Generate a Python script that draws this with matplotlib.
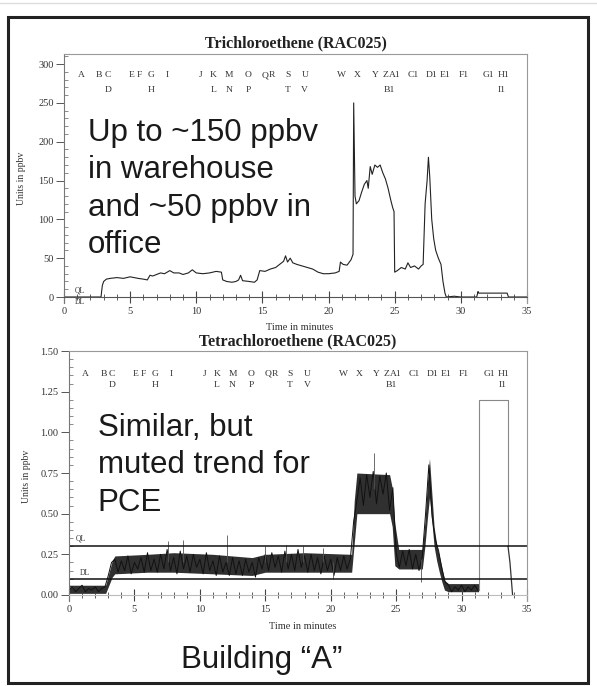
import matplotlib
matplotlib.use("Agg")
import numpy as np
import matplotlib.pyplot as plt
from matplotlib.patches import Rectangle
from matplotlib.lines import Line2D
from matplotlib.ticker import MultipleLocator

# --- data ---
# marker letters above both traces (time in minutes)
letters_row1 = ["A", "B", "C", "E", "F", "G", "I", "J", "K", "M", "O", "Q", "R", "S", "U",
                "W", "X", "Y", "Z", "A1", "C1", "D1", "E1", "F1", "G1", "H1"]
letters_row1_x = [1.28, 2.65, 3.3, 5.1, 5.7, 6.6, 7.8, 10.35, 11.3, 12.5, 13.9, 15.2, 15.7, 16.9, 18.2,
                  21.0, 22.2, 23.5, 24.3, 25.0, 26.4, 27.8, 28.8, 30.2, 32.1, 33.2]
letters_row2 = ["D", "H", "L", "N", "P", "T", "V", "B1", "I1"]
letters_row2_x = [3.3, 6.6, 11.3, 12.5, 13.9, 16.9, 18.2, 24.6, 33.1]

# Trichloroethene trace (minutes, ppbv)
tce_t = [0, 2.8, 2.85, 2.9, 3.0, 3.2, 3.5, 4.0, 4.5, 5.0, 5.3, 5.6, 6.0, 6.3, 6.5, 6.7, 7.0, 7.3,
         7.6, 8.0, 8.3, 8.7, 9.0, 9.4, 9.7, 10.0, 10.5, 11.0, 11.5, 11.9, 12.0, 12.3, 12.7, 13.0,
         13.2, 13.35, 13.5, 14.0, 14.4, 14.6, 14.8, 15.2, 15.6, 16.0, 16.3, 16.6, 16.75, 16.9,
         17.1, 17.3, 17.6, 18.0, 18.4, 18.8, 19.2, 19.6, 20.0, 20.5, 20.8, 20.9, 21.1, 21.4, 21.7,
         21.85, 21.9, 22.0, 22.1, 22.3, 22.5, 22.7, 22.9, 23.0, 23.15, 23.3, 23.5, 23.7, 23.9,
         24.1, 24.3, 24.5, 24.7, 24.85, 24.95, 25.0, 25.2, 25.5, 25.8, 26.0, 26.2, 26.5, 26.8,
         27.0, 27.15, 27.3, 27.45, 27.55, 27.65, 27.8, 27.95, 28.1, 28.3, 28.5, 28.65, 28.8,
         28.9, 29.5, 30.0, 31.2, 31.3, 31.35, 33.5, 33.6, 35.0]
tce_v = [0, 0, 8, 15, 20, 23, 24, 25, 24, 26, 25, 24, 23, 22, 28, 27, 29, 31,
         30, 34, 31, 31, 29, 31, 35, 31, 30, 31, 33, 32, 22, 20, 19, 20,
         22, 28, 21, 20, 19, 22, 34, 33, 36, 38, 42, 46, 53, 45,
         50, 44, 42, 40, 38, 36, 32, 30, 30, 31, 33, 45, 42, 41, 48,
         55, 250, 130, 120, 124, 135, 145, 150, 140, 168, 158, 170, 167, 170,
         160, 152, 140, 125, 115, 110, 32, 34, 38, 36, 44, 38, 40, 36,
         40, 42, 120, 150, 180, 155, 100, 75, 60, 50, 42, 20, 5,
         0, 1, 0, 0, 7, 5, 5, 0, 0]

# Tetrachloroethene trace, sampled every 0.25 min from 0 to 31.25 (ppbv)
pce_step = 0.25
pce_v = [0.03, 0.05, 0.02, 0.04, 0.06, 0.02, 0.04, 0.03, 0.05, 0.02, 0.04, 0.05,   # 0 - 2.75
         0.12, 0.20,                                                               # 3.0 - 3.25
         0.22, 0.14, 0.21, 0.15, 0.24, 0.13, 0.20, 0.16, 0.23, 0.14,               # 3.5 - 5.75
         0.26, 0.15, 0.22, 0.14, 0.25, 0.16, 0.28, 0.15, 0.23, 0.13,               # 6.0 - 8.25
         0.27, 0.16, 0.24, 0.14, 0.25, 0.17, 0.22, 0.13, 0.26, 0.15,               # 8.5 - 10.75
         0.21, 0.12, 0.24, 0.14, 0.20, 0.12, 0.23, 0.13, 0.21, 0.12,               # 11.0 - 13.25
         0.22, 0.14, 0.20, 0.11, 0.23, 0.16, 0.25, 0.15, 0.26, 0.17,               # 13.5 - 15.75
         0.24, 0.14, 0.27, 0.16, 0.25, 0.15, 0.28, 0.17, 0.24, 0.14,               # 16.0 - 18.25
         0.25, 0.15, 0.23, 0.13, 0.24, 0.15, 0.22, 0.12, 0.23, 0.15,               # 18.5 - 20.75
         0.24, 0.16, 0.22,                                                         # 21.0 - 21.5
         0.45,                                                                     # 21.75
         0.58, 0.72, 0.55, 0.74, 0.60, 0.76, 0.56, 0.73, 0.62, 0.75, 0.52, 0.66,   # 22.0 - 24.75
         0.26, 0.17, 0.27, 0.18, 0.28, 0.16, 0.25, 0.15, 0.24,                     # 25.0 - 27.0
         0.50, 0.80, 0.48,                                                         # 27.25 - 27.75
         0.34, 0.27, 0.16, 0.08,                                                   # 28.0 - 28.75
         0.06, 0.02, 0.05, 0.03, 0.06, 0.02, 0.05, 0.03, 0.06, 0.03]               # 29.0 - 31.25

# dense core of the noise band
band_t = [0, 2.8, 3.0, 3.3, 3.5, 6, 8, 11, 14, 15, 18, 21.6, 21.8, 22.0, 24.5, 24.7, 24.9,
          25.2, 27.0, 27.2, 27.4, 27.55, 27.7, 27.9, 28.1, 28.3, 28.5, 28.7, 29, 31.3]
band_lo = [0.01, 0.01, 0.05, 0.11, 0.13, 0.14, 0.14, 0.13, 0.12, 0.14, 0.14, 0.14, 0.32, 0.50,
           0.50, 0.42, 0.18, 0.16, 0.16, 0.30, 0.48, 0.60, 0.48, 0.30, 0.21, 0.14, 0.08, 0.03,
           0.02, 0.02]
band_hi = [0.06, 0.06, 0.12, 0.21, 0.24, 0.25, 0.26, 0.25, 0.23, 0.25, 0.26, 0.25, 0.58, 0.75,
           0.74, 0.66, 0.44, 0.28, 0.28, 0.45, 0.70, 0.84, 0.66, 0.42, 0.31, 0.24, 0.17, 0.09,
           0.07, 0.07]

pce_spike_t = [7.6, 8.7, 12.1, 15.0, 16.6, 17.9, 19.4, 23.3, 26.9, 20.2]
pce_spike_lo = [0.20, 0.20, 0.20, 0.20, 0.20, 0.20, 0.20, 0.65, 0.08, 0.10]
pce_spike_hi = [0.33, 0.34, 0.37, 0.30, 0.31, 0.30, 0.29, 0.87, 0.22, 0.20]

# saturated window drawn as a box, then the tail back to zero
pce_box_t = [31.3, 31.3, 33.55, 33.55]
pce_box_v = [0.03, 1.20, 1.20, 0.30]
pce_tail_t = [33.55, 33.7, 33.8, 33.85, 33.9]
pce_tail_v = [0.30, 0.20, 0.10, 0.05, 0.0]

ql_pce = 0.30
dl_pce = 0.10

serif = "Liberation Serif"
sans = "Liberation Sans"
tick_col = "#333333"


def style_axes(ax, ymajor, yminor, yfmt):
    ax.set_xlim(0, 35)
    ax.spines["bottom"].set_position(("data", 0))
    ax.spines["bottom"].set_color("#555555")
    ax.spines["left"].set_color("#777777")
    ax.spines["top"].set_color("#999999")
    ax.spines["right"].set_color("#999999")
    ax.xaxis.set_major_locator(MultipleLocator(5))
    ax.xaxis.set_minor_locator(MultipleLocator(1))
    ax.yaxis.set_major_locator(MultipleLocator(ymajor))
    ax.yaxis.set_minor_locator(MultipleLocator(yminor))
    ax.yaxis.set_major_formatter(yfmt)
    ax.tick_params(axis="x", which="major", direction="inout", length=9, width=0.8,
                   color="#444444", labelsize=7.5, labelcolor=tick_col, pad=3)
    ax.tick_params(axis="x", which="minor", direction="inout", length=5, width=0.6, color="#444444")
    ax.tick_params(axis="y", which="major", direction="out", length=5.5, width=0.7,
                   color="#555555", labelsize=7.5, labelcolor=tick_col, pad=2)
    ax.tick_params(axis="y", which="minor", direction="in", length=3, width=0.6, color="#777777")
    for lab in ax.get_xticklabels() + ax.get_yticklabels():
        lab.set_fontfamily(serif)
    ax.set_xlabel("Time in minutes", fontsize=7.5, family=serif, color=tick_col)
    ax.set_ylabel("Units in ppbv", fontsize=7, family=serif, color=tick_col)


def draw_letters(ax, y1, y2):
    for lab, x in zip(letters_row1, letters_row1_x):
        ax.text(x, y1, lab, ha="center", va="center", fontsize=6.8, family=serif, color=tick_col)
    for lab, x in zip(letters_row2, letters_row2_x):
        ax.text(x, y2, lab, ha="center", va="center", fontsize=6.8, family=serif, color=tick_col)


fig = plt.figure(figsize=(5.97, 6.86), dpi=100)

# --- top: TCE ---
ax1 = fig.add_axes([0.1072, 0.558, 0.7755, 0.3633])
ax1.plot(tce_t, tce_v, color="#222222", lw=0.8)
ax1.set_ylim(-8, 313)
style_axes(ax1, 50, 10, "{x:.0f}")
ax1.xaxis.set_label_coords(0.51, -0.08)
ax1.yaxis.set_label_coords(-0.082, 0.5)
draw_letters(ax1, 285.7, 266)
ax1.text(0.8, 9, "QL", fontsize=5.5, family=serif, color=tick_col, va="center")
ax1.text(0.8, -7, "DL", fontsize=5.5, family=serif, color=tick_col, va="center")
ax1.text(0.5, 1.044, "Trichloroethene (RAC025)", transform=ax1.transAxes, ha="center",
         va="center", fontsize=11.5, fontweight="bold", family=serif, color="#222222")
ax1.text(0.052, 0.743, "Up to ~150 ppbv\nin warehouse\nand ~50 ppbv in\noffice",
         transform=ax1.transAxes, ha="left", va="top", fontsize=22.5, family=sans,
         color="#1a1a1a", linespacing=1.32)

# --- bottom: PCE ---
ax2 = fig.add_axes([0.1156, 0.1232, 0.7671, 0.3651])
pce_t = np.arange(len(pce_v)) * pce_step
ax2.fill_between(band_t, band_lo, band_hi, color="#303030", lw=0)
ax2.plot(pce_t, pce_v, color="#111111", lw=0.7)
ax2.vlines(pce_spike_t, pce_spike_lo, pce_spike_hi, color="#555555", lw=0.6)
ax2.plot(pce_box_t, pce_box_v, color="#888888", lw=0.8)
ax2.plot(pce_tail_t, pce_tail_v, color="#333333", lw=0.9)
ax2.axhline(ql_pce, color="#111111", lw=1.1)
ax2.axhline(dl_pce, color="#111111", lw=1.1)
ax2.set_ylim(-0.04, 1.5)
style_axes(ax2, 0.25, 0.05, "{x:.2f}")
ax2.spines["bottom"].set_color("#bbbbbb")
ax2.xaxis.set_label_coords(0.51, -0.082)
ax2.yaxis.set_label_coords(-0.083, 0.5)
draw_letters(ax2, 1.36, 1.29)
ax2.text(0.5, ql_pce + 0.045, "QL", fontsize=5.5, family=serif, color=tick_col, va="center")
ax2.text(0.8, dl_pce + 0.035, "DL", fontsize=5.5, family=serif, color=tick_col, va="center")
ax2.text(0.5, 1.04, "Tetrachloroethene (RAC025)", transform=ax2.transAxes, ha="center",
         va="center", fontsize=11.5, fontweight="bold", family=serif, color="#222222")
ax2.text(0.063, 0.752, "Similar, but\nmuted trend for\nPCE", transform=ax2.transAxes,
         ha="left", va="top", fontsize=22.5, family=sans, color="#1a1a1a", linespacing=1.32)

# caption and frame
fig.text(262 / 597, 1 - 660 / 686, "Building \u201cA\u201d", ha="center", va="center",
         fontsize=22.5, family=sans, color="#1a1a1a")
fig.add_artist(Rectangle((8 / 597, 1 - 683 / 686), 580 / 597, 666 / 686, fill=False,
                         lw=2.2, ec="#222222", transform=fig.transFigure))
fig.add_artist(Line2D([0, 1], [1 - 3 / 686, 1 - 3 / 686], color="#dddddd", lw=1,
                      transform=fig.transFigure))

fig.savefig("out.png", dpi=100)
